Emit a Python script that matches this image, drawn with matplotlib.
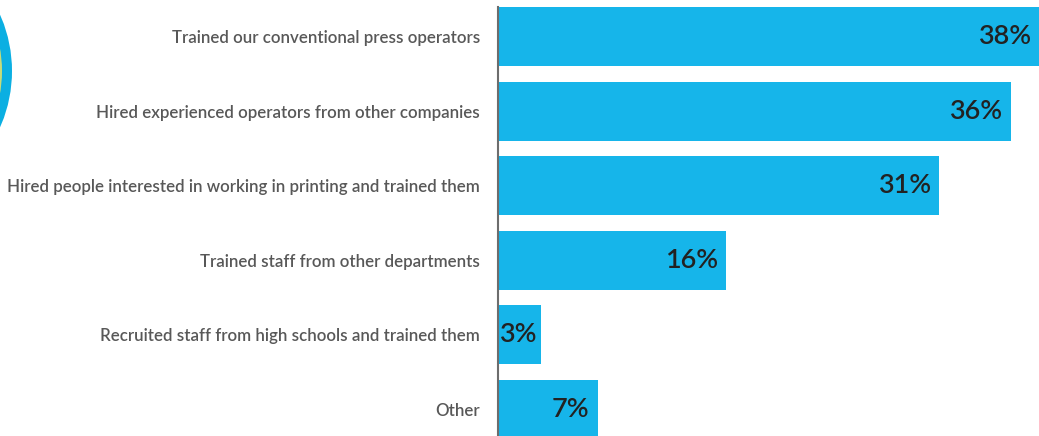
import matplotlib
matplotlib.use("Agg")
import matplotlib.pyplot as plt
from matplotlib.patches import Ellipse
from matplotlib.textpath import TextPath
from matplotlib.font_manager import FontProperties

# survey answers, top to bottom
labels = [
    "Trained our conventional press operators",
    "Hired experienced operators from other companies",
    "Hired people interested in working in printing and trained them",
    "Trained staff from other departments",
    "Recruited staff from high schools and trained them",
    "Other",
]
values = [38, 36, 31, 16, 3, 7]

W, H = 1039, 436
bar_color = "#16b5ea"
font = "Lato"
weight = "semibold"


def size_for_width(text, width_px):
    # font size (pt) at which text spans width_px at 100 dpi
    prop = FontProperties(family=font, weight=weight)
    w = TextPath((0, 0), text, size=10, prop=prop).get_extents().width
    return 10 * width_px / (w * 100 / 72)


label_size = size_for_width(labels[2], 468)
pct_size = size_for_width("38%", 51)

fig = plt.figure(figsize=(W / 100, H / 100), dpi=100)
ax = fig.add_axes([498 / W, 0, 1 - 498 / W, 1])

y = list(range(len(values)))
ax.barh(y, values, height=0.79, color=bar_color, zorder=2)
ax.set_xlim(0, 38)
ax.set_ylim(5.355, -0.489)

for yi, v in zip(y, values):
    ax.annotate(f"{v}%", xy=(v, yi), xytext=(-8 if v > 5 else -4, 0), textcoords="offset pixels",
                ha="right", va="center", fontsize=pct_size, color="#222222",
                family=font, weight=weight)

ax.set_yticks(y)
ax.set_yticklabels(labels, fontsize=label_size, color="#585858", family=font, weight=weight)
ax.tick_params(axis="y", length=0, pad=13)
ax.set_xticks([])
for s in ["top", "right", "bottom"]:
    ax.spines[s].set_visible(False)
ax.spines["left"].set_color("#6d6d6d")
ax.spines["left"].set_linewidth(1.5)
ax.spines["left"].set_bounds(-0.395, 5.355)
ax.patch.set_visible(False)

# ring decoration at the left edge
cx, cy = -127, 71
for r, c in [(139, "#0bafe2"), (129, "#c7dc7a")]:
    fig.add_artist(Ellipse((cx / W, 1 - cy / H), 2 * r / W, 2 * r / H,
                           transform=fig.transFigure, color=c, lw=0))

fig.savefig("out.png", dpi=100)
